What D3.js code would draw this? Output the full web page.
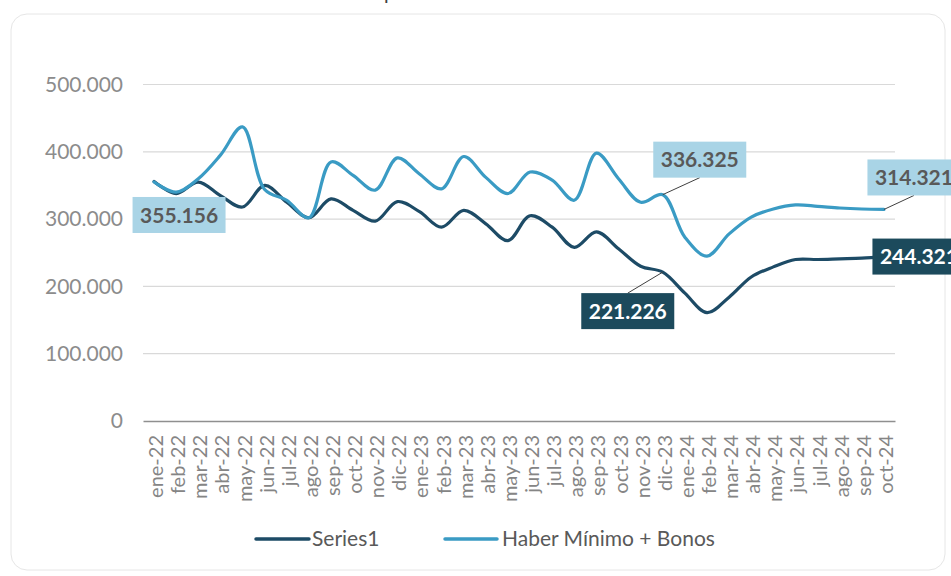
<!DOCTYPE html>
<html>
<head>
<meta charset="utf-8">
<script src="https://cdn.jsdelivr.net/npm/d3@7"></script>
<style>
  html, body { margin: 0; padding: 0; background: #ffffff; }
  svg { display: block; }
</style>
</head>
<body>
<div id="chart"></div>
<script>
const title = "En pesos de octubre 2024";
const categories = ["ene-22","feb-22","mar-22","abr-22","may-22","jun-22","jul-22","ago-22","sep-22","oct-22","nov-22","dic-22",
  "ene-23","feb-23","mar-23","abr-23","may-23","jun-23","jul-23","ago-23","sep-23","oct-23","nov-23","dic-23",
  "ene-24","feb-24","mar-24","abr-24","may-24","jun-24","jul-24","ago-24","sep-24","oct-24"];
const seriesNames = ["Series1", "Haber Mínimo + Bonos"];
const series1 = [356000, 338000, 355000, 335000, 318000, 350000, 325000, 302000, 330000, 313000, 297000, 326000,
  311000, 288000, 313000, 293000, 268000, 305000, 288000, 258000, 281000, 256000, 230000, 221226,
  190000, 161000, 184000, 214000, 229000, 240000, 240000, 241000, 242000, 244321];
const haber = [355156, 340000, 360000, 395000, 437000, 344000, 328000, 302000, 385000, 365000, 343000, 391000,
  367000, 345000, 393000, 362000, 338000, 370000, 358000, 328000, 398000, 360000, 325000, 336325,
  273000, 245000, 278000, 303000, 315000, 321000, 319000, 316500, 315000, 314321];
const yTicks = [0, 100000, 200000, 300000, 400000, 500000];
// labelled points: [series index, category index]
const labelPoints = [[1, 0], [1, 23], [1, 33], [0, 23], [0, 33]];

(function () {
const W = 951, H = 576;
const colors = ["#1d4b66", "#3a9bc4"];
const boxFill = ["#1c4a5c", "#a9d4e6"];
const boxText = ["#ffffff", "#595959"];
const fontFam = "Lato, 'Open Sans', sans-serif";

const svg = d3.select("#chart").append("svg").attr("width", W).attr("height", H);

// card border
svg.append("rect").attr("x", 11).attr("y", 14).attr("width", 934).attr("height", 556)
  .attr("rx", 16).attr("fill", "none").attr("stroke", "#e6e6e6").attr("stroke-width", 1);

// clipped title
svg.append("text").attr("x", 471).attr("y", 0).attr("text-anchor", "middle")
  .attr("font-family", fontFam).attr("font-size", 20).attr("fill", "#404040").text(title);

const pLeft = 143, pRight = 895, pTop = 84.5, pBottom = 421;
const x = d3.scaleBand().domain(categories).range([pLeft, pRight]);
const y = d3.scaleLinear().domain([0, 500000]).range([pBottom, pTop]);
const cx = d => x(d) + x.bandwidth() / 2;

// gridlines
svg.append("g").selectAll("line").data(yTicks.filter(d => d > 0)).join("line")
  .attr("x1", pLeft).attr("x2", pRight).attr("y1", d => y(d)).attr("y2", d => y(d))
  .attr("stroke", "#d9d9d9").attr("stroke-width", 1.2);

// y axis labels
const fmt = v => v === 0 ? "0" : d3.format(",")(v).replace(/,/g, ".");
const yAxis = svg.append("g").attr("transform", `translate(${pLeft},0)`)
  .call(d3.axisLeft(y).tickValues(yTicks).tickFormat(fmt).tickSize(0).tickPadding(20));
yAxis.select(".domain").remove();
yAxis.selectAll("text").attr("font-family", fontFam).attr("font-size", 21).attr("fill", "#8c8c8c");

// x axis
const xAxis = svg.append("g").attr("transform", `translate(0,${pBottom})`)
  .call(d3.axisBottom(x).tickSize(0).tickPadding(0));
xAxis.select(".domain").attr("stroke", "#8f8f8f").attr("stroke-width", 1.3);
xAxis.selectAll("text")
  .attr("font-family", fontFam).attr("font-size", 20).attr("fill", "#858585")
  .attr("text-anchor", "end")
  .attr("transform", "translate(2,14) rotate(-90)")
  .attr("dy", "0.35em").attr("y", 0).attr("x", 0);

// lines
const allSeries = [series1, haber];
const line = d3.line().x((d, i) => cx(categories[i])).y(d => y(d)).curve(d3.curveCatmullRom.alpha(0.5));
allSeries.forEach((s, k) => {
  svg.append("path").datum(s).attr("d", line).attr("fill", "none")
    .attr("stroke", colors[k]).attr("stroke-width", 3.2)
    .attr("stroke-linejoin", "round").attr("stroke-linecap", "round");
});

// data labels
const fmtLabel = v => d3.format(",")(v).replace(/,/g, ".");
const offsets = {
  "1-0": { dx: 25, dy: 33, leader: false },
  "1-23": { dx: 37, dy: -35, leader: "bottom" },
  "1-33": { dx: 30, dy: -32, leader: "bottom" },
  "0-23": { dx: -35, dy: 39, leader: "top" },
  "0-33": { dx: 35, dy: 0, leader: false }
};
const bw = 93, bh = 36;
labelPoints.forEach(([k, i]) => {
  const v = allSeries[k][i];
  const px = cx(categories[i]), py = y(v);
  const o = offsets[k + "-" + i];
  const bx = px + o.dx, by = py + o.dy;
  if (o.leader) {
    const ey = o.leader === "bottom" ? by + bh / 2 : by - bh / 2;
    svg.append("line").attr("x1", px).attr("y1", py).attr("x2", bx).attr("y2", ey)
      .attr("stroke", "#404040").attr("stroke-width", 1);
  }
  svg.append("rect").attr("x", bx - bw / 2).attr("y", by - bh / 2).attr("width", bw).attr("height", bh)
    .attr("fill", boxFill[k]);
  svg.append("text").attr("x", bx).attr("y", by).attr("dy", "0.36em").attr("text-anchor", "middle")
    .attr("font-family", fontFam).attr("font-weight", "bold").attr("font-size", 21)
    .attr("fill", boxText[k]).text(fmtLabel(v));
});

// legend
const legendItems = [{ x1: 256, x2: 309, tx: 312 }, { x1: 445, x2: 497, tx: 502 }];
legendItems.forEach((it, k) => {
  svg.append("line").attr("x1", it.x1).attr("x2", it.x2).attr("y1", 539).attr("y2", 539)
    .attr("stroke", colors[k]).attr("stroke-width", 3.5).attr("stroke-linecap", "round");
  svg.append("text").attr("x", it.tx).attr("y", 546).attr("font-family", fontFam).attr("font-size", 21)
    .attr("fill", "#595959").text(seriesNames[k]);
});
})();
</script>
</body>
</html>
